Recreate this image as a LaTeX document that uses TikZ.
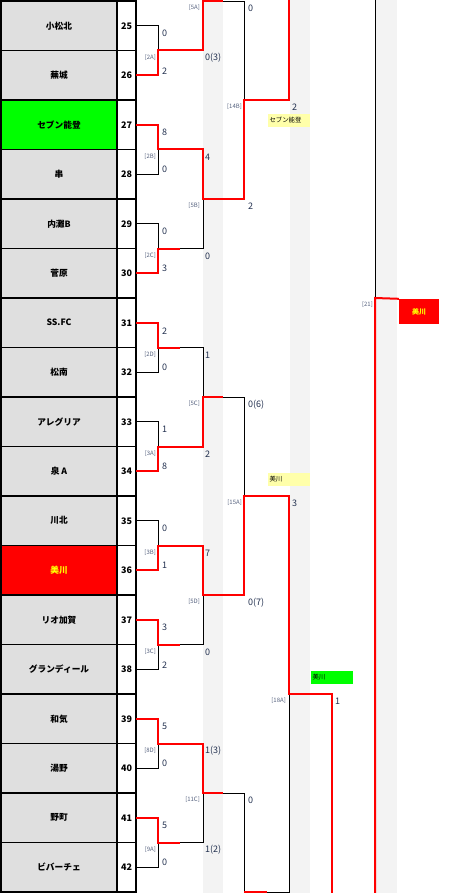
\documentclass[tikz,border=0pt]{standalone}
\usepackage{fontspec}
\setmainfont{Noto Sans CJK JP}
\usetikzlibrary{positioning}
\definecolor{cellgray}{HTML}{DFDFDF}
\definecolor{bandgray}{HTML}{F3F3F3}
\definecolor{winred}{HTML}{FF0000}
\definecolor{scoreblue}{HTML}{22304F}
\definecolor{tagblue}{HTML}{55617E}
\definecolor{noteyellow}{HTML}{FFFFAA}
\definecolor{champgreen}{HTML}{00FF00}
\definecolor{champtext}{HTML}{FFFF00}

\begin{document}
\begin{tikzpicture}[x=1pt, y=-1pt,
    team/.style={draw, line width=1.6pt, fill=cellgray, minimum width=116pt, minimum height=49.5pt, inner sep=0pt, outer sep=0pt, font=\fontsize{8.7}{10}\selectfont\bfseries},
    seed/.style={draw, line width=1.6pt, fill=white, minimum width=19pt, minimum height=49.5pt, inner sep=0pt, outer sep=0pt, font=\fontsize{9}{10}\selectfont\bfseries},
    lose/.style={black, line width=0.9pt},
    win/.style={winred, line width=2pt},
    score/.style={anchor=west, inner sep=0pt, text=scoreblue, font=\fontsize{9}{10}\selectfont},
    tag/.style={anchor=east, inner sep=0pt, text=tagblue, font=\fontsize{6}{7}\selectfont},
    note/.style={minimum height=13pt, text width=39pt, inner xsep=1.5pt, inner ysep=0pt, align=left, font=\fontsize{6.4}{7}\selectfont}]

    \useasboundingbox (0,0) rectangle (448,893);

    % Shaded columns
    \fill[bandgray] (203,0) rectangle (223,893);
    \fill[bandgray] (290,0) rectangle (310,893);
    \fill[bandgray] (375,0) rectangle (397,893);

    % Teams
    \node[team] (t25) at (59,25.75) {小松北};
    \node[team, below=0pt of t25] (t26) {蕪城};
    \node[team, fill=champgreen, below=0pt of t26] (t27) {セブン能登};
    \node[team, below=0pt of t27] (t28) {串};
    \node[team, below=0pt of t28] (t29) {内灘B};
    \node[team, below=0pt of t29] (t30) {菅原};
    \node[team, below=0pt of t30] (t31) {SS.FC};
    \node[team, below=0pt of t31] (t32) {松南};
    \node[team, below=0pt of t32] (t33) {アレグリア};
    \node[team, below=0pt of t33] (t34) {泉 A};
    \node[team, below=0pt of t34] (t35) {川北};
    \node[team, fill=winred, text=champtext, below=0pt of t35] (t36) {美川};
    \node[team, below=0pt of t36] (t37) {リオ加賀};
    \node[team, below=0pt of t37] (t38) {グランディール};
    \node[team, below=0pt of t38] (t39) {和気};
    \node[team, below=0pt of t39] (t40) {湯野};
    \node[team, below=0pt of t40] (t41) {野町};
    \node[team, below=0pt of t41] (t42) {ビバーチェ};

    % Numbers
    \node[seed, right=0pt of t25] (n25) {25};
    \node[seed, right=0pt of t26] (n26) {26};
    \node[seed, right=0pt of t27] (n27) {27};
    \node[seed, right=0pt of t28] (n28) {28};
    \node[seed, right=0pt of t29] (n29) {29};
    \node[seed, right=0pt of t30] (n30) {30};
    \node[seed, right=0pt of t31] (n31) {31};
    \node[seed, right=0pt of t32] (n32) {32};
    \node[seed, right=0pt of t33] (n33) {33};
    \node[seed, right=0pt of t34] (n34) {34};
    \node[seed, right=0pt of t35] (n35) {35};
    \node[seed, right=0pt of t36] (n36) {36};
    \node[seed, right=0pt of t37] (n37) {37};
    \node[seed, right=0pt of t38] (n38) {38};
    \node[seed, right=0pt of t39] (n39) {39};
    \node[seed, right=0pt of t40] (n40) {40};
    \node[seed, right=0pt of t41] (n41) {41};
    \node[seed, right=0pt of t42] (n42) {42};

    % Match points
    \coordinate (m2A) at (158,50.5);
    \coordinate (m2B) at (158,149.5);
    \coordinate (m2C) at (158,248.5);
    \coordinate (m2D) at (158,347.5);
    \coordinate (m3A) at (158,446.5);
    \coordinate (m3B) at (158,545.5);
    \coordinate (m3C) at (158,644.5);
    \coordinate (m8D) at (158,743.5);
    \coordinate (m9A) at (158,842.5);
    \coordinate (m5A) at (203,1);
    \coordinate (m5B) at (203,199);
    \coordinate (m5C) at (203,397);
    \coordinate (m5D) at (203,595);
    \coordinate (m11C) at (203,793);
    \coordinate (m14B) at (244,100);
    \coordinate (m15A) at (244,496);
    \coordinate (mlow) at (244,892);
    \coordinate (top17) at (289,0);
    \coordinate (m18A) at (289,694);
    \coordinate (bot19) at (332,893);
    \coordinate (top21) at (375,0);
    \coordinate (m21) at (375,298);
    \coordinate (bot21) at (375,893);

    % Losing lines
    \draw[lose] (n25.east) -| (m2A);
    \draw[lose] (n28.east) -| (m2B);
    \draw[lose] (n29.east) -| (m2C);
    \draw[lose] (n32.east) -| (m2D);
    \draw[lose] (n33.east) -| (m3A);
    \draw[lose] (n35.east) -| (m3B);
    \draw[lose] (n38.east) -| (m3C);
    \draw[lose] (n40.east) -| (m8D);
    \draw[lose] (n42.east) -| (m9A);
    \draw[lose] (m2C) -| (m5B);
    \draw[lose] (m2D) -| (m5C);
    \draw[lose] (m3C) -| (m5D);
    \draw[lose] (m9A) -| (m11C);
    \draw[lose] (m5A) -| (m14B);
    \draw[lose] (m5C) -| (m15A);
    \draw[lose] (m11C) -| (mlow);
    \draw[lose] (mlow) -| (m18A);
    \draw[lose] (top21) -- (m21);

    % Champion
    \node[fill=winred, text=champtext, minimum width=40pt, minimum height=25pt, inner sep=0pt, font=\fontsize{7}{8}\selectfont\bfseries] (champ) at (419,311.5) {美川};

    % Winning lines
    \draw[win] (n26.east) -| (m2A) -| (m5A) -- ++(20,0);
    \draw[win] (n27.east) -| (m2B) -| (m5B) -| (m14B) -| (top17);
    \draw[win] (n30.east) -| (m2C) -- ++(22,0);
    \draw[win] (n31.east) -| (m2D) -- ++(22,0);
    \draw[win] (n34.east) -| (m3A) -| (m5C) -- ++(20,0);
    \draw[win] (n36.east) -| (m3B) -| (m5D) -| (m15A) -| (m18A) -| (bot19);
    \draw[win] (n37.east) -| (m3C) -- ++(22,0);
    \draw[win] (n39.east) -| (m8D) -| (m11C) -- ++(20,0);
    \draw[win] (n41.east) -| (m9A) -- ++(22,0);
    \draw[win] (mlow) -- ++(23,0);
    \draw[win] (bot21) -- (m21) -- (champ.north west);

    % Match tags
    \node[tag] (g2A) at (156,57.5) {[2A]};
    \node[tag] (g2B) at (156,156.5) {[2B]};
    \node[tag] (g2C) at (156,255.5) {[2C]};
    \node[tag] (g2D) at (156,354.5) {[2D]};
    \node[tag] (g3A) at (156,453.5) {[3A]};
    \node[tag] (g3B) at (156,552.5) {[3B]};
    \node[tag] (g3C) at (156,651.5) {[3C]};
    \node[tag] (g8D) at (156,750.5) {[8D]};
    \node[tag] (g9A) at (156,849.5) {[9A]};
    \node[tag] (g5A) at (200,8) {[5A]};
    \node[tag] (g5B) at (200,206) {[5B]};
    \node[tag] (g5C) at (200,404) {[5C]};
    \node[tag] (g5D) at (200,602) {[5D]};
    \node[tag] (g11C) at (200,800) {[11C]};
    \node[tag] (g14B) at (242,107) {[14B]};
    \node[tag] (g15A) at (242,503) {[15A]};
    \node[tag] (g18A) at (286,701) {[18A]};
    \node[tag] (g21) at (373,305) {[21]};

    % Scores, first round
    \node[score] (r25) at (162,33.75) {0};
    \node[score] (r26) at (162,70.75) {2};
    \node[score] (r27) at (162,132.75) {8};
    \node[score] (r28) at (162,169.75) {0};
    \node[score] (r29) at (162,231.75) {0};
    \node[score] (r30) at (162,268.75) {3};
    \node[score] (r31) at (162,330.75) {2};
    \node[score] (r32) at (162,367.75) {0};
    \node[score] (r33) at (162,429.75) {1};
    \node[score] (r34) at (162,466.75) {8};
    \node[score] (r35) at (162,528.75) {0};
    \node[score] (r36) at (162,565.75) {1};
    \node[score] (r37) at (162,627.75) {3};
    \node[score] (r38) at (162,664.75) {2};
    \node[score] (r39) at (162,726.75) {5};
    \node[score] (r40) at (162,763.75) {0};
    \node[score] (r41) at (162,825.75) {5};
    \node[score] (r42) at (162,862.75) {0};

    % Scores, later rounds
    \node[score] (q2A) at (205,58) {0(3)};
    \node[score] (q2B) at (205,157) {4};
    \node[score] (q2C) at (205,256) {0};
    \node[score] (q2D) at (205,355) {1};
    \node[score] (q3A) at (205,454) {2};
    \node[score] (q3B) at (205,553) {7};
    \node[score] (q3C) at (205,652) {0};
    \node[score] (q8D) at (205,751) {1(3)};
    \node[score] (q9A) at (205,850) {1(2)};
    \node[score] (q5A) at (248,8.5) {0};
    \node[score] (q5B) at (248,206.5) {2};
    \node[score] (q5C) at (248,404.5) {0(6)};
    \node[score] (q5D) at (248,602.5) {0(7)};
    \node[score] (q11C) at (248,800.5) {0};
    \node[score] (q14B) at (292,107.5) {2};
    \node[score] (q15A) at (292,503.5) {3};
    \node[score] (q18A) at (335,701.5) {1};

    % Winner notes
    \node[note, fill=noteyellow] (w14B) at (289,120.5) {セブン能登};
    \node[note, fill=noteyellow] (w15A) at (289,479.5) {美川};
    \node[note, fill=champgreen] (w18A) at (332,677.5) {美川};
\end{tikzpicture}
\end{document}
